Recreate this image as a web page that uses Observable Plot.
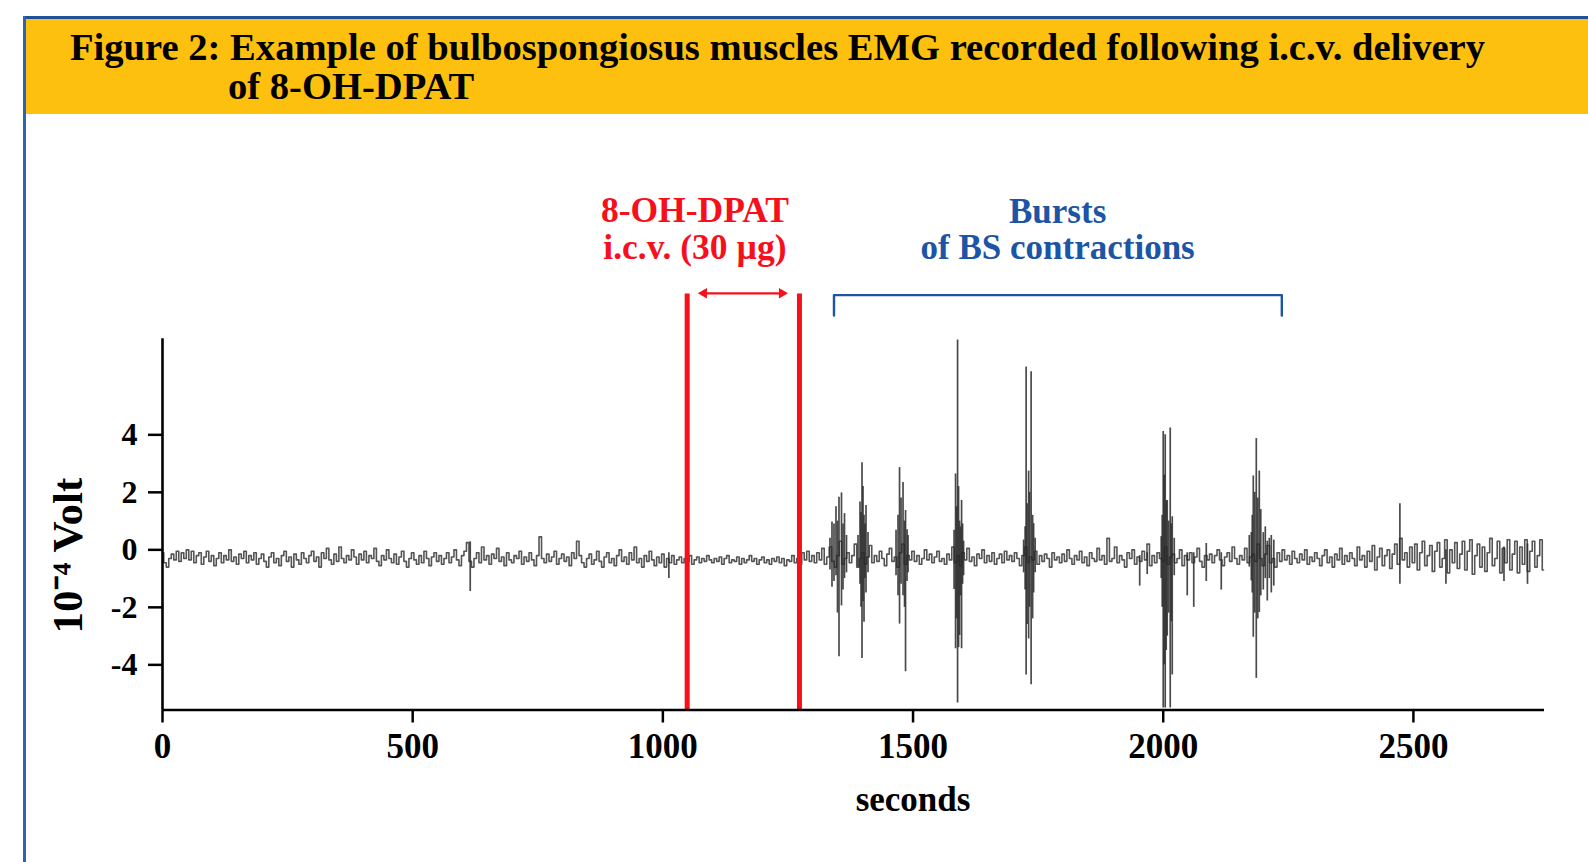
<!DOCTYPE html>
<html>
<head>
<meta charset="utf-8">
<script src="https://cdn.jsdelivr.net/npm/d3@7"></script>
<script src="https://cdn.jsdelivr.net/npm/@observablehq/plot@0.6"></script>
<style>
  body { margin: 0; background: #fff; }
  #page { position: relative; width: 1588px; height: 862px; overflow: hidden; background: #fff; }
  .title { position: absolute; font: bold 38px/38px "Liberation Serif", serif; white-space: nowrap; transform-origin: 0 0; color: #000; }
  #chart { position: absolute; left: 0; top: 114px; }
</style>
</head>
<body>
<div id="page">
  <div style="position:absolute;left:23px;top:16px;width:1565px;height:2.5px;background:#1f4f97"></div>
  <div style="position:absolute;left:23px;top:16px;width:2.5px;height:846px;background:#2a64b4"></div>
  <div style="position:absolute;left:25.5px;top:18.5px;right:0;height:95.5px;background:#fec00f"></div>
  <div class="title" id="t1" style="left:70px;top:28px">Figure 2: Example of bulbospongiosus muscles EMG recorded following i.c.v. delivery</div>
  <div class="title" id="t2" style="left:228px;top:67px">of 8-OH-DPAT</div>
  <div id="chart"></div>
</div>
<script>
// ---------- data ----------
const sampleStep = 5; // seconds between EMG samples
const emg = [
  -0.1,-0.45,-0.6,-0.3,-0.15,-0.35,-0.05,-0.4,-0.1,-0.3,0.0,-0.35,-0.05,-0.45,-0.2,-0.1,-0.5,-0.25,-0.05,-0.4,
  -0.2,-0.55,-0.3,-0.1,-0.45,-0.2,-0.35,0.0,-0.4,-0.25,-0.5,-0.15,-0.3,-0.05,-0.45,-0.2,-0.35,-0.1,-0.5,-0.3,
  -0.15,-0.4,-0.6,-0.25,-0.1,-0.45,-0.3,-0.55,-0.2,-0.05,-0.4,-0.25,-0.6,-0.15,-0.35,-0.5,-0.1,-0.3,-0.45,-0.2,
  -0.05,-0.4,-0.25,-0.6,-0.1,-0.3,0.05,-0.35,-0.5,-0.15,-0.4,0.1,-0.3,-0.45,-0.2,-0.35,0.0,-0.25,-0.5,-0.15,
  -0.35,-0.05,-0.45,-0.2,-0.3,0.05,-0.4,-0.55,-0.2,-0.35,0.0,-0.3,-0.45,-0.15,-0.5,-0.25,-0.05,-0.4,-0.6,-0.3,
  -0.1,-0.35,-0.5,-0.2,-0.45,-0.05,-0.3,-0.55,-0.25,-0.1,-0.4,-0.2,-0.5,-0.3,-0.1,-0.45,-0.25,0.0,-0.35,-0.55,
  -0.2,-0.05,0.25,-0.4,-0.6,-0.3,-0.1,-0.45,0.1,-0.35,-0.2,-0.5,-0.15,-0.3,0.05,-0.4,-0.25,-0.55,-0.1,-0.35,
  -0.45,-0.2,-0.3,-0.05,-0.5,-0.25,-0.4,-0.1,-0.35,-0.55,-0.2,0.45,-0.3,-0.45,-0.15,-0.4,-0.25,-0.05,-0.5,-0.3,
  -0.15,-0.4,-0.25,-0.55,-0.1,-0.3,0.3,-0.2,-0.45,-0.6,-0.3,-0.15,-0.5,-0.35,-0.05,-0.4,-0.6,-0.25,-0.1,-0.45,
  -0.3,-0.55,-0.2,0.0,-0.4,-0.25,-0.5,-0.1,-0.35,0.1,-0.45,-0.3,-0.6,-0.2,-0.4,-0.05,-0.35,-0.55,-0.25,-0.45,
  -0.15,-0.6,-0.3,-0.45,-0.2,-0.5,-0.35,-0.25,-0.45,-0.3,-0.4,-0.2,-0.5,-0.35,-0.25,-0.45,-0.3,-0.4,-0.2,-0.35,
  -0.45,-0.3,-0.4,-0.25,-0.5,-0.3,-0.2,-0.45,-0.35,-0.4,-0.25,-0.5,-0.3,-0.45,-0.35,-0.2,-0.4,-0.3,-0.5,-0.35,
  -0.25,-0.45,-0.35,-0.5,-0.3,-0.4,-0.25,-0.45,-0.3,-0.55,-0.35,-0.4,-0.2,-0.45,-0.3,-0.5,-0.1,-0.35,-0.05,-0.4,
  -0.2,-0.45,-0.1,-0.35,0.05,-0.5,-0.25,0.1,-0.4,-0.6,-0.2,0.3,-0.5,-0.3,-0.1,-0.45,-0.2,0.2,-0.6,-0.3,
  -0.1,-0.5,-0.25,0.15,-0.45,-0.2,-0.4,-0.05,-0.3,-0.55,-0.15,0.05,-0.4,-0.25,-0.6,-0.1,0.2,-0.5,-0.2,-0.35,
  -0.05,-0.4,-0.2,-0.5,-0.3,0.0,-0.35,-0.15,-0.45,-0.25,-0.05,-0.4,-0.3,-0.5,-0.15,-0.35,0.1,-0.45,-0.2,-0.55,
  -0.1,-0.35,0.05,-0.4,-0.25,-0.55,-0.15,-0.3,0.0,-0.45,-0.2,-0.4,-0.1,-0.5,-0.3,-0.15,-0.45,-0.05,-0.35,-0.2,
  -0.4,-0.1,-0.3,-0.55,-0.2,0.1,-0.45,-0.25,-0.35,-0.05,-0.5,-0.2,-0.4,-0.15,-0.3,-0.6,-0.1,-0.35,-0.25,-0.45,
  -0.15,-0.4,0.0,-0.3,-0.5,-0.2,-0.35,-0.05,-0.45,-0.25,-0.55,-0.1,-0.3,-0.4,0.05,-0.35,-0.2,-0.5,0.4,-0.4,
  -0.3,0.1,-0.45,-0.2,-0.35,-0.6,-0.1,-0.3,0.0,-0.5,-0.25,-0.4,-0.05,-0.35,0.2,-0.55,-0.2,-0.45,-0.1,-0.3,
  -0.4,0.1,-0.5,-0.25,-0.15,-0.45,-0.3,0.0,-0.55,-0.2,-0.35,-0.1,-0.45,-0.25,0.05,-0.4,-0.6,-0.2,-0.35,-0.15,
  -0.45,-0.2,0.0,-0.35,-0.55,-0.25,-0.1,-0.4,0.1,-0.3,-0.5,-0.2,-0.35,0.05,-0.45,-0.25,-0.15,-0.4,0.2,-0.3,
  -0.55,-0.15,0.15,-0.45,-0.3,-0.6,-0.1,-0.4,0.0,-0.35,-0.2,-0.5,-0.05,-0.3,-0.45,-0.15,-0.35,0.0,-0.5,-0.25,
  -0.4,-0.1,-0.3,-0.55,-0.2,0.0,-0.45,-0.25,-0.6,-0.15,-0.35,0.05,-0.5,-0.2,-0.4,-0.1,-0.3,-0.55,0.1,-0.35,
  -0.2,-0.6,-0.05,-0.4,0.15,-0.7,-0.25,0.05,-0.55,-0.2,0.0,-0.65,-0.15,0.2,-0.5,0.4,-0.35,-0.1,-0.6,0.1,
  -0.45,0.2,-0.7,-0.1,0.3,-0.55,-0.2,0.15,-0.75,-0.05,0.25,-0.6,-0.3,0.35,-0.8,0.0,-0.45,0.25,-0.65,-0.15,
  0.3,-0.7,-0.05,0.35,-0.85,-0.2,0.2,-0.6,0.1,-0.75,-0.1,0.4,-0.55,-0.3,0.3,-0.8,0.05,-0.45,0.35,-0.7,
  -0.15,0.3,-0.8,0.1,-0.5,0.35,-0.75,-0.05,0.3,-0.6,-0.2,0.35,-0.7
];
// Large EMG deflections (bursts): time (s), lowest and highest value (10^-4 V)
const spikeTimes = [615,1012,
  1334,1338,1342,1346,1349,1352,1357,1360,1363,1367,
  1390,1394,1396,1398,1400,1402,1404,1406,1410,
  1466,1470,1473,1476,1480,1483,1485,1488,1490,
  1582,1585,1587,1589,1591,1593,1595,1597,1599,1601,
  1721,1724,1726,1728,1731,1733,1736,1739,1741,1744,
  1953,1968,
  1996,1998,2000,2002,2004,2006,2008,2011,2014,2016,2018,2022,
  2048,2061,2086,2116,
  2172,2176,2178,2180,2183,2186,2189,2192,2195,2200,2204,2208,2212,2216,2221,
  2473,2565,2681,2728];
const spikeMin = [-1.45,-1.0,
  -0.7,-1.3,-1.1,-0.9,-2.2,-3.72,-1.95,-1.4,-1.0,-0.8,
  -0.6,-1.2,-2.0,-3.78,-1.8,-2.52,-1.0,-1.5,-0.8,
  -0.9,-1.6,-2.58,-1.2,-1.6,-2.0,-4.24,-1.1,-0.8,
  -1.38,-3.44,-2.4,-5.33,-3.4,-2.98,-1.6,-3.44,-1.2,-0.9,
  -0.8,-1.4,-4.35,-2.6,-3.1,-2.0,-4.69,-2.4,-1.5,-0.8,
  -1.26,-0.86,
  -1.0,-2.0,-5.5,-4.0,-5.5,-3.5,-3.0,-2.2,-5.5,-2.5,-4.35,-0.9,
  -1.6,-2.0,-1.1,-1.4,
  -0.6,-1.08,-1.5,-3.04,-2.2,-4.47,-2.4,-2.18,-1.6,-1.4,-1.0,-1.78,-1.0,-1.5,-1.26,
  -1.2,-1.2,-1.1,-1.2];
const spikeMax = [0.28,-0.1,
  0.4,0.97,0.9,1.5,1.0,1.83,1.98,0.9,1.26,0.5,
  0.5,1.66,1.3,3.03,2.2,1.2,0.9,1.54,0.6,
  0.68,1.2,2.86,1.8,2.34,1.0,1.37,0.7,0.5,
  0.68,2.64,1.5,7.3,2.2,1.0,0.8,1.72,0.9,0.3,
  0.34,0.8,6.36,1.6,2.74,2.0,6.19,1.2,0.91,0.4,
  -0.2,-0.1,
  0.46,1.2,4.12,2.6,4.0,1.7,1.72,1.0,4.24,0.9,1.15,0.4,
  -0.1,-0.1,0.22,-0.1,
  0.5,0.6,1.2,2.57,2.0,3.87,1.8,2.74,1.4,0.6,0.8,0.3,0.4,0.5,0.34,
  1.6,0.0,0.1,0.2];
const injectionTimes = [1048.6, 1273];   // 8-OH-DPAT i.c.v. window (s)
const burstWindow = [1342, 2237];        // bursts of BS contractions (s)
const xTicks = [0, 500, 1000, 1500, 2000, 2500];
const yTicks = [-4, -2, 0, 2, 4];
const injectionLabel = "8-OH-DPAT\ni.c.v. (30 µg)";
const burstLabel = "Bursts\nof BS contractions";

// ---------- build ----------
const trace = emg.map((v, i) => ({t: i * sampleStep, v}));
const spikes = spikeTimes.map((t, i) => ({t, lo: spikeMin[i], hi: spikeMax[i]}));
const yTop = 8.9, arrowY = 8.92, bracketTop = 8.86, bracketBottom = 8.15, labelY = 10.12;
const bracket = [
  {t: burstWindow[0], v: bracketBottom}, {t: burstWindow[0], v: bracketTop},
  {t: burstWindow[1], v: bracketTop}, {t: burstWindow[1], v: bracketBottom}
];
const red = "#f5101c", blue = "#1c55a5", ink = "#2a2a2a";

const chart = Plot.plot({
  width: 1588, height: 748,
  marginLeft: 162, marginRight: 44, marginTop: 224.3, marginBottom: 152.5,
  x: {domain: [0, 2762]},
  y: {domain: [-5.57, 7.34]},
  style: {fontFamily: '"Liberation Serif", serif', fontWeight: "bold", background: "transparent", color: "#000", overflow: "visible"},
  marks: [
    Plot.line(trace, {x: "t", y: "v", curve: "step", stroke: ink, strokeWidth: 1.6, strokeOpacity: 0.8}),
    Plot.ruleX(spikes, {x: "t", y1: "lo", y2: "hi", stroke: ink, strokeWidth: 1.7, strokeOpacity: 0.85}),
    Plot.ruleX(injectionTimes, {y1: -5.57, y2: yTop, stroke: red, strokeWidth: 5}),
    Plot.link([{a: 1082, b: 1238}], {x1: "a", x2: "b", y1: arrowY, y2: arrowY, stroke: red, strokeWidth: 2.4}),
    Plot.dot([{t: 1082, r: -90}, {t: 1238, r: 90}], {x: "t", y: arrowY, rotate: "r", symbol: "triangle", r: 3.9, fill: red, stroke: null}),
    Plot.line(bracket, {x: "t", y: "v", stroke: blue, strokeWidth: 2.4}),
    Plot.text([injectionLabel], {x: 1064, y: labelY, text: d => d, lineAnchor: "bottom", lineHeight: 1.03, fontSize: 35.5, fill: red}),
    Plot.text([burstLabel], {x: 1789, y: labelY, text: d => d, lineAnchor: "bottom", lineHeight: 1.03, fontSize: 35, fill: blue}),
    Plot.ruleX([0], {stroke: "#000", strokeWidth: 2.6}),
    Plot.ruleY([-5.57], {stroke: "#000", strokeWidth: 2.6}),
    Plot.axisX({ticks: xTicks, tickFormat: d => String(d), tickSize: 13, tickPadding: 10.6, fontSize: 35, label: null, strokeWidth: 2.5}),
    Plot.axisY({ticks: yTicks, tickFormat: d => String(d), tickSize: 14, tickPadding: 11, fontSize: 32, label: null, strokeWidth: 2.5}),
    Plot.text(["seconds"], {x: 1500, frameAnchor: "bottom", dy: 100.5, lineAnchor: "bottom", fontSize: 35, fill: "#000"}),
    Plot.text(["10⁻⁴ Volt"], {frameAnchor: "left", y: -0.2, dx: -94, rotate: -90, textAnchor: "middle", lineAnchor: "middle", fontSize: 43, fill: "#000"})
  ]
});
document.getElementById("chart").appendChild(chart);

// compress title to the reference width
const t1 = document.getElementById("t1"), t2 = document.getElementById("t2");
const k = 1415 / t1.getBoundingClientRect().width;
t1.style.transform = `scaleX(${k})`;
t2.style.transform = `scaleX(${k})`;
</script>
</body>
</html>
